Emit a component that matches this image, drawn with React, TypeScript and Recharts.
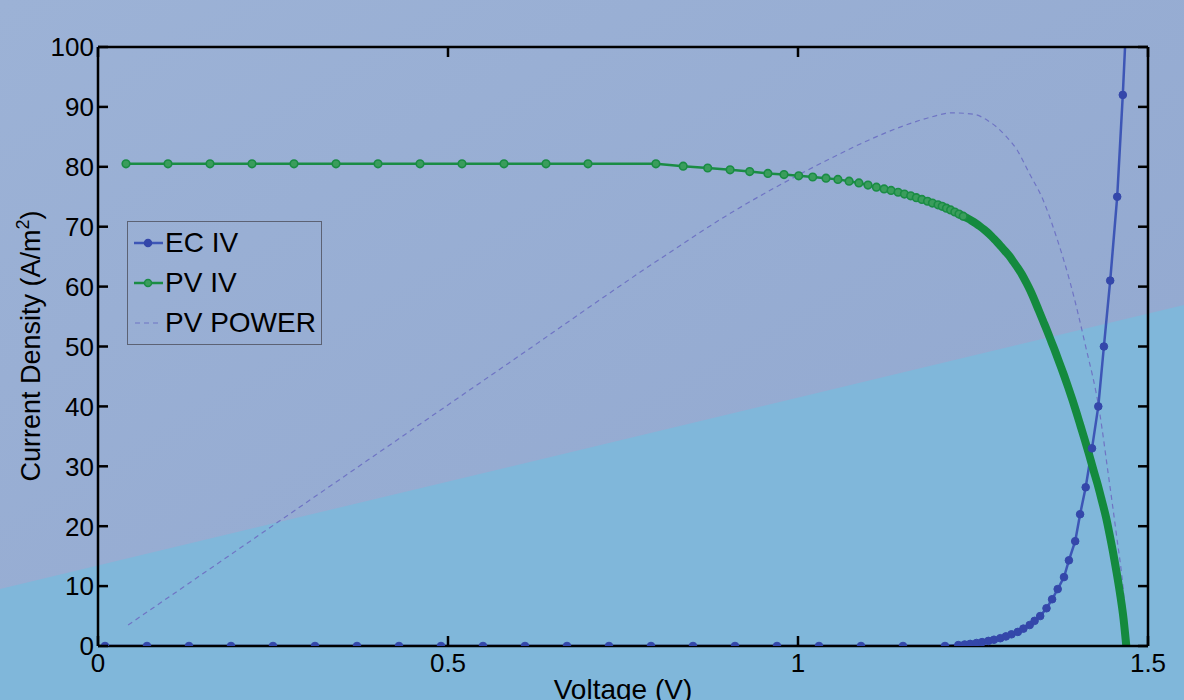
import { Legend, Line, LineChart, XAxis, YAxis } from 'recharts';

// plot box in page pixels
const LEFT = 98;
const RIGHT = 1148;
const TOP = 47;
const BOTTOM = 646;
const FONT = '"Liberation Sans", Arial, sans-serif';

const xTicks = [0, 0.5, 1, 1.5];
const yTicks = [0, 10, 20, 30, 40, 50, 60, 70, 80, 90, 100];

// EC IV (electrolyser)
const ecV = [
    0.01, 0.07, 0.13, 0.19, 0.25, 0.31, 0.37, 0.43, 0.49, 0.55, 0.61, 0.67, 0.73, 0.79, 0.85, 0.91, 0.97, 1.03, 1.09,
    1.15, 1.21, 1.229, 1.238, 1.246, 1.255, 1.263, 1.272, 1.28, 1.289, 1.297, 1.305, 1.314, 1.322, 1.331, 1.338, 1.346,
    1.355, 1.363, 1.371, 1.38, 1.387, 1.396, 1.403, 1.411, 1.42, 1.429, 1.437, 1.446, 1.456, 1.464, 1.472,
];
const ecJ = [
    0, 0, 0, 0, 0, 0, 0, 0, 0, 0, 0, 0, 0, 0, 0, 0, 0, 0, 0,
    0, 0, 0.15, 0.25, 0.35, 0.5, 0.65, 0.85, 1.05, 1.3, 1.6, 1.95, 2.35, 2.9, 3.5, 4.2, 5.0,
    6.3, 7.8, 9.5, 11.5, 14.3, 17.5, 22, 26.5, 33, 40, 50, 61, 75, 92, 112,
];

// PV IV (solar cell)
const pvV = [
    0.04, 0.1, 0.16, 0.22, 0.28, 0.34, 0.4, 0.46, 0.52, 0.58, 0.64, 0.7, 0.797, 0.836, 0.871, 0.903, 0.931, 0.957,
    0.98, 1.001, 1.021, 1.04, 1.057, 1.073, 1.087, 1.1, 1.112, 1.123, 1.133, 1.143, 1.152, 1.161, 1.169, 1.177, 1.185,
    1.192, 1.2, 1.206, 1.212, 1.218, 1.224, 1.23, 1.236, 1.242, 1.248, 1.254, 1.26, 1.266, 1.272, 1.278, 1.284, 1.29,
    1.296, 1.302, 1.308, 1.314, 1.32, 1.326, 1.332, 1.338, 1.344, 1.35, 1.356, 1.362, 1.368, 1.374, 1.38, 1.386, 1.392,
    1.398, 1.404, 1.41, 1.416, 1.422, 1.428, 1.434, 1.44, 1.445, 1.45, 1.455, 1.46, 1.465, 1.469,
];
const pvJ = [
    80.5, 80.5, 80.5, 80.5, 80.5, 80.5, 80.5, 80.5, 80.5, 80.5, 80.5, 80.5, 80.5, 80.1, 79.8, 79.5, 79.2, 78.9,
    78.7, 78.5, 78.3, 78.1, 77.9, 77.6, 77.3, 76.95, 76.6, 76.3, 76.05, 75.75, 75.45, 75.15, 74.85, 74.55, 74.25,
    73.95, 73.65, 73.4, 73.1, 72.8, 72.45, 72.1, 71.75, 71.4, 71.0, 70.55, 70.05, 69.5, 68.9, 68.2, 67.5, 66.7,
    65.9, 65.1, 64.1, 63.1, 62.0, 60.7, 59.3, 57.7, 56.0, 54.3, 52.6, 50.8, 49.0, 47.1, 45.2, 43.2, 41.1,
    38.9, 36.6, 34.3, 31.9, 29.4, 27.0, 24.3, 21.5, 18.7, 15.7, 12.4, 8.8, 4.6, 0,
];

// PV power (W/m2, same axis)
const powerV = [
    0.043, 0.2, 0.4, 0.6, 0.8, 0.9, 1.0, 1.05, 1.1, 1.15, 1.19, 1.22, 1.25, 1.27, 1.298, 1.313, 1.33, 1.35, 1.37,
    1.389, 1.41, 1.431, 1.443, 1.455, 1.465, 1.471,
];
const powerP = [
    3.5, 16.1, 32.2, 48.3, 64.4, 72.0, 78.6, 81.6, 84.4, 86.8, 88.3, 89.0, 88.8, 87.8, 85.0, 82.8, 79.0, 74.5, 68.0,
    60.6, 50.5, 38.9, 28.9, 18.5, 9.0, 0,
];

const ecData = ecV.map((v, i) => ({ v, j: ecJ[i] }));
const pvData = pvV.map((v, i) => ({ v, j: pvJ[i] }));
const pvTail = pvData.filter((d) => d.v >= 1.23);
const powerData = powerV.map((v, i) => ({ v, p: powerP[i] }));

const BLUE = '#3d56b6';
const BLUE_DOT = '#3447aa';
const GREEN = '#1a8c44';
const GREEN_FILL = '#3a9d5c';
const DASH = '#6f74c4';

// markers merge into a solid band past ~1.24 V, the thick tail line draws that part
const PvDot = (props: any) => {
    const { cx, cy, payload, index } = props;
    if (payload.v >= 1.24) return <g key={`pv-${index}`} />;
    return <circle key={`pv-${index}`} cx={cx} cy={cy} r={3.8} fill={GREEN_FILL} stroke={GREEN} strokeWidth={1.6} />;
};

const LeftTick = ({ y, payload }: any) => (
    <g>
        <line x1={LEFT} x2={LEFT + 10} y1={y} y2={y} stroke="#000" strokeWidth={2.5} />
        <text x={LEFT - 4} y={y} dy="0.36em" textAnchor="end" fontSize={26} fontFamily={FONT} fill="#000">
            {payload.value}
        </text>
    </g>
);

const RightTick = ({ y }: any) => (
    <line x1={RIGHT - 10} x2={RIGHT} y1={y} y2={y} stroke="#000" strokeWidth={2.5} />
);

const BottomTick = ({ x, payload }: any) => (
    <g>
        <line x1={x} x2={x} y1={BOTTOM - 10} y2={BOTTOM} stroke="#000" strokeWidth={2.5} />
        <text x={x} y={BOTTOM + 7} dy="0.72em" textAnchor="middle" fontSize={26} fontFamily={FONT} fill="#000">
            {payload.value}
        </text>
    </g>
);

const TopTick = ({ x }: any) => (
    <line x1={x} x2={x} y1={TOP} y2={TOP + 10} stroke="#000" strokeWidth={2.5} />
);

const YLabel = () => (
    <text x={40} y={346} transform="rotate(-90 40 346)" textAnchor="middle" fontSize={27} fontFamily={FONT} fill="#000">
        Current Density (A/m<tspan dy={-11} fontSize={18}>2</tspan><tspan dy={11}>)</tspan>
    </text>
);

const XLabel = () => (
    <text x={623} y={699} textAnchor="middle" fontSize={28} fontFamily={FONT} fill="#000">
        Voltage (V)
    </text>
);

const legendRows = [
    { name: 'EC IV', kind: 'ec' },
    { name: 'PV IV', kind: 'pv' },
    { name: 'PV POWER', kind: 'power' },
];

const LegendBox = () => (
    <div
        style={{
            width: 195,
            height: 124,
            boxSizing: 'border-box',
            border: '1px solid #5c6274',
            paddingTop: 1,
            fontFamily: FONT,
            fontSize: 28,
            color: '#000',
        }}
    >
        {legendRows.map((r) => (
            <div key={r.name} style={{ height: 40, display: 'flex', alignItems: 'center' }}>
                <svg width={37} height={40} style={{ flex: 'none' }}>
                    {r.kind === 'power' ? (
                        <line x1={7} x2={34} y1={20} y2={20} stroke={DASH} strokeWidth={1.2} strokeDasharray="5 4" />
                    ) : (
                        <>
                            <line x1={6} x2={35} y1={20} y2={20} stroke={r.kind === 'ec' ? BLUE : GREEN} strokeWidth={2.5} />
                            <circle
                                cx={20}
                                cy={20}
                                r={3.5}
                                fill={r.kind === 'ec' ? BLUE_DOT : GREEN_FILL}
                                stroke={r.kind === 'ec' ? BLUE_DOT : GREEN}
                                strokeWidth={1.5}
                            />
                        </>
                    )}
                </svg>
                <span style={{ lineHeight: '40px', whiteSpace: 'nowrap' }}>{r.name}</span>
            </div>
        ))}
    </div>
);

export default function App() {
    return (
        <div style={{ position: 'absolute', left: 0, top: 0, width: 1184, height: 700, overflow: 'hidden' }}>
            <svg width={1184} height={700} style={{ position: 'absolute', left: 0, top: 0 }}>
                <defs>
                    <linearGradient id="bgTop" x1="0" y1="0" x2="1" y2="1">
                        <stop offset="0%" stopColor="#9cb2d6" />
                        <stop offset="100%" stopColor="#91a7cf" />
                    </linearGradient>
                </defs>
                <rect x={0} y={0} width={1184} height={700} fill="url(#bgTop)" />
                <polygon points="0,589 1184,305 1184,700 0,700" fill="#80b7da" />
            </svg>
            <div style={{ position: 'absolute', left: 0, top: 0 }}>
                <LineChart width={1184} height={700} margin={{ top: 40, right: 0, bottom: 0, left: 0 }}>
                    <XAxis
                        xAxisId="b"
                        type="number"
                        dataKey="v"
                        domain={[0, 1.5]}
                        ticks={xTicks}
                        interval={0}
                        allowDataOverflow
                        height={54}
                        tickLine={false}
                        tickSize={0}
                        axisLine={{ stroke: '#000', strokeWidth: 2.5 }}
                        tick={<BottomTick />}
                        label={<XLabel />}
                    />
                    <XAxis
                        xAxisId="t"
                        orientation="top"
                        type="number"
                        dataKey="v"
                        domain={[0, 1.5]}
                        ticks={xTicks}
                        interval={0}
                        allowDataOverflow
                        height={7}
                        tickLine={false}
                        tickSize={0}
                        axisLine={{ stroke: '#000', strokeWidth: 2.5 }}
                        tick={<TopTick />}
                    />
                    <YAxis
                        yAxisId="l"
                        type="number"
                        domain={[0, 100]}
                        ticks={yTicks}
                        interval={0}
                        allowDataOverflow
                        width={98}
                        tickLine={false}
                        tickSize={0}
                        axisLine={{ stroke: '#000', strokeWidth: 2.5 }}
                        tick={<LeftTick />}
                        label={<YLabel />}
                    />
                    <YAxis
                        yAxisId="r"
                        orientation="right"
                        type="number"
                        domain={[0, 100]}
                        ticks={yTicks}
                        interval={0}
                        allowDataOverflow
                        width={36}
                        tickLine={false}
                        tickSize={0}
                        axisLine={{ stroke: '#000', strokeWidth: 2.5 }}
                        tick={<RightTick />}
                    />
                    <Legend
                        layout="vertical"
                        align="center"
                        verticalAlign="middle"
                        content={() => <LegendBox />}
                        wrapperStyle={{ position: 'absolute', left: 127, top: 221, width: 195, height: 124 }}
                    />
                    <Line
                        xAxisId="b"
                        yAxisId="l"
                        data={powerData}
                        dataKey="p"
                        name="PV POWER"
                        type="monotone"
                        stroke={DASH}
                        strokeWidth={1.2}
                        strokeDasharray="5 4"
                        dot={false}
                        activeDot={false}
                        isAnimationActive={false}
                    />
                    <Line
                        xAxisId="b"
                        yAxisId="l"
                        data={ecData}
                        dataKey="j"
                        name="EC IV"
                        type="linear"
                        stroke={BLUE}
                        strokeWidth={2.5}
                        dot={{ r: 3.8, fill: BLUE_DOT, stroke: BLUE_DOT, strokeWidth: 1 }}
                        activeDot={false}
                        isAnimationActive={false}
                    />
                    <Line
                        xAxisId="b"
                        yAxisId="l"
                        data={pvData}
                        dataKey="j"
                        name="PV IV"
                        type="linear"
                        stroke={GREEN}
                        strokeWidth={2.5}
                        dot={PvDot}
                        activeDot={false}
                        isAnimationActive={false}
                    />
                    <Line
                        xAxisId="b"
                        yAxisId="l"
                        data={pvTail}
                        dataKey="j"
                        name="PV IV dense"
                        legendType="none"
                        type="monotone"
                        stroke="#148a3e"
                        strokeWidth={8}
                        strokeLinecap="round"
                        dot={false}
                        activeDot={false}
                        isAnimationActive={false}
                    />
                </LineChart>
            </div>
        </div>
    );
}
